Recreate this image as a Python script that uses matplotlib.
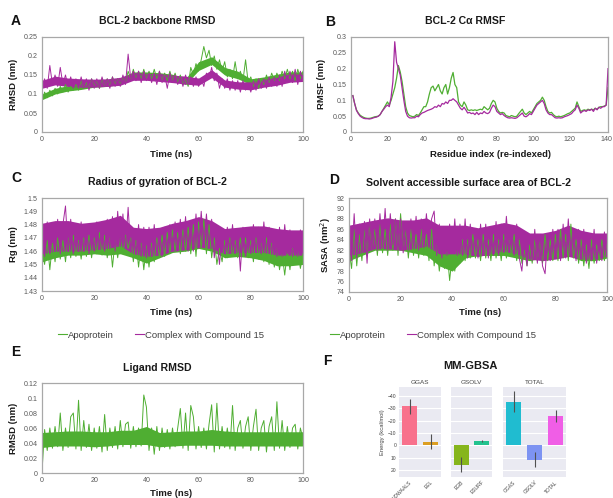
import matplotlib
matplotlib.use('Agg')
import matplotlib.pyplot as plt
from matplotlib.lines import Line2D
from matplotlib.ticker import FuncFormatter, MultipleLocator

plt.rcParams['font.family'] = ['Liberation Sans', 'DejaVu Sans']

# ---------------- data ----------------
time_ns = list(range(101))
core_t = list(range(0, 101, 5))  # times of the dense-noise core band

rmsd_apo = [0.08, 0.105, 0.09, 0.11, 0.095, 0.115, 0.1, 0.12, 0.105, 0.125,
            0.105, 0.12, 0.11, 0.125, 0.11, 0.135, 0.115, 0.13, 0.115, 0.14,
            0.12, 0.135, 0.115, 0.14, 0.12, 0.14, 0.12, 0.145, 0.125, 0.14,
            0.125, 0.145, 0.13, 0.16, 0.14, 0.165, 0.14, 0.16, 0.14, 0.165,
            0.14, 0.16, 0.14, 0.165, 0.14, 0.16, 0.135, 0.155, 0.135, 0.16,
            0.135, 0.155, 0.13, 0.15, 0.125, 0.14, 0.12, 0.17, 0.15, 0.18,
            0.16, 0.19, 0.225, 0.195, 0.215, 0.175, 0.2, 0.165, 0.19, 0.16,
            0.185, 0.145, 0.165, 0.14, 0.185, 0.14, 0.16, 0.135, 0.19, 0.13,
            0.145, 0.12, 0.14, 0.115, 0.14, 0.125, 0.15, 0.13, 0.155, 0.135,
            0.155, 0.135, 0.16, 0.14, 0.165, 0.14, 0.16, 0.135, 0.165, 0.14, 0.16]
rmsd_cpx = [0.12, 0.14, 0.115, 0.175, 0.125, 0.15, 0.12, 0.17, 0.125, 0.15,
            0.12, 0.145, 0.115, 0.14, 0.115, 0.145, 0.115, 0.14, 0.11, 0.14,
            0.115, 0.14, 0.115, 0.145, 0.12, 0.14, 0.115, 0.145, 0.12, 0.14,
            0.12, 0.15, 0.125, 0.205, 0.14, 0.16, 0.135, 0.16, 0.13, 0.16,
            0.135, 0.155, 0.13, 0.155, 0.125, 0.16, 0.13, 0.15, 0.115, 0.155,
            0.13, 0.15, 0.125, 0.145, 0.12, 0.15, 0.125, 0.145, 0.12, 0.145,
            0.12, 0.14, 0.12, 0.155, 0.14, 0.17, 0.135, 0.155, 0.115, 0.14,
            0.115, 0.14, 0.11, 0.135, 0.11, 0.135, 0.105, 0.135, 0.11, 0.13,
            0.105, 0.135, 0.11, 0.14, 0.115, 0.14, 0.115, 0.145, 0.12, 0.145,
            0.12, 0.15, 0.12, 0.16, 0.13, 0.16, 0.13, 0.165, 0.125, 0.16, 0.135]
rmsd_apo_core_lo = [0.085, 0.1, 0.108, 0.112, 0.118, 0.12, 0.125, 0.14, 0.142, 0.14, 0.136,
                    0.125, 0.162, 0.178, 0.15, 0.14, 0.125, 0.128, 0.138, 0.142, 0.142]
rmsd_apo_core_hi = [0.1, 0.115, 0.122, 0.128, 0.132, 0.137, 0.14, 0.158, 0.158, 0.156, 0.152,
                    0.14, 0.185, 0.198, 0.17, 0.16, 0.14, 0.145, 0.152, 0.158, 0.158]
rmsd_cpx_core_lo = [0.115, 0.124, 0.12, 0.118, 0.118, 0.12, 0.123, 0.136, 0.136, 0.133, 0.13,
                    0.126, 0.123, 0.143, 0.118, 0.113, 0.111, 0.118, 0.123, 0.131, 0.133]
rmsd_cpx_core_hi = [0.136, 0.147, 0.142, 0.14, 0.139, 0.14, 0.144, 0.157, 0.154, 0.154, 0.15,
                    0.147, 0.142, 0.164, 0.137, 0.132, 0.132, 0.139, 0.144, 0.154, 0.152]

residue = list(range(1, 142))
rmsf_apo = [0.115, 0.09, 0.07, 0.06, 0.053, 0.049, 0.046, 0.044, 0.043, 0.043,
            0.044, 0.046, 0.048, 0.049, 0.05, 0.055, 0.065, 0.075, 0.085, 0.095,
            0.085, 0.1, 0.12, 0.14, 0.17, 0.21, 0.19, 0.16, 0.12, 0.08,
            0.06, 0.052, 0.05, 0.048, 0.05, 0.055, 0.052, 0.06, 0.07, 0.08,
            0.08, 0.095, 0.12, 0.14, 0.145, 0.13, 0.14, 0.15, 0.13, 0.12,
            0.14, 0.15, 0.12, 0.14, 0.17, 0.188, 0.15, 0.14, 0.095, 0.085,
            0.08, 0.095, 0.085, 0.07, 0.068, 0.07, 0.068, 0.07, 0.068, 0.07,
            0.072, 0.07, 0.08, 0.075, 0.07, 0.075, 0.09, 0.1, 0.095, 0.075,
            0.065, 0.06, 0.062, 0.06, 0.052, 0.05, 0.048, 0.052, 0.05, 0.048,
            0.05, 0.058, 0.065, 0.072, 0.06, 0.055, 0.06, 0.065, 0.06, 0.07,
            0.08, 0.09, 0.095, 0.1, 0.11, 0.1, 0.08, 0.065, 0.06, 0.062,
            0.055, 0.05, 0.048, 0.05, 0.048, 0.05, 0.052, 0.055, 0.058, 0.06,
            0.065, 0.07, 0.075, 0.095, 0.08, 0.065, 0.068, 0.07, 0.068, 0.072,
            0.07, 0.072, 0.07, 0.075, 0.072, 0.078, 0.08, 0.08, 0.082, 0.085, 0.14]
rmsf_cpx = [0.115, 0.09, 0.068, 0.058, 0.05, 0.046, 0.043, 0.042, 0.042, 0.041,
            0.042, 0.044, 0.046, 0.047, 0.05, 0.055, 0.065, 0.072, 0.08, 0.085,
            0.08, 0.11, 0.16, 0.285, 0.22, 0.2, 0.18, 0.14, 0.1, 0.065,
            0.05, 0.045, 0.044, 0.045, 0.045, 0.05, 0.048, 0.055, 0.06, 0.062,
            0.065, 0.068, 0.07, 0.072, 0.075, 0.08, 0.078, 0.085, 0.08, 0.09,
            0.088, 0.095, 0.09, 0.1, 0.1, 0.105, 0.1, 0.095, 0.085, 0.075,
            0.07, 0.078, 0.07, 0.06, 0.062, 0.058, 0.06, 0.055, 0.062, 0.055,
            0.06, 0.058, 0.065, 0.06, 0.058, 0.062, 0.075, 0.085, 0.08, 0.065,
            0.06, 0.055, 0.058, 0.052, 0.048, 0.045, 0.044, 0.045, 0.044, 0.043,
            0.045, 0.05, 0.055, 0.06, 0.05, 0.048, 0.052, 0.058, 0.055, 0.065,
            0.075, 0.085, 0.09, 0.095, 0.1, 0.09, 0.07, 0.06, 0.055, 0.055,
            0.05, 0.045, 0.044, 0.045, 0.044, 0.045, 0.048, 0.05, 0.052, 0.055,
            0.058, 0.065, 0.07, 0.085, 0.075, 0.06, 0.065, 0.068, 0.065, 0.07,
            0.068, 0.072, 0.065, 0.075, 0.07, 0.078, 0.075, 0.08, 0.08, 0.085, 0.2]

rg_apo = [1.46, 1.45, 1.468, 1.446, 1.466, 1.452, 1.47, 1.454, 1.468, 1.452,
          1.47, 1.455, 1.472, 1.456, 1.468, 1.454, 1.47, 1.456, 1.472, 1.455,
          1.47, 1.458, 1.474, 1.457, 1.472, 1.455, 1.47, 1.448, 1.468, 1.455,
          1.47, 1.458, 1.472, 1.462, 1.47, 1.452, 1.468, 1.448, 1.466, 1.446,
          1.464, 1.448, 1.466, 1.452, 1.47, 1.455, 1.472, 1.456, 1.474, 1.458,
          1.476, 1.46, 1.474, 1.458, 1.476, 1.46, 1.478, 1.458, 1.48, 1.456,
          1.482, 1.462, 1.484, 1.458, 1.48, 1.455, 1.47, 1.45, 1.462, 1.452,
          1.468, 1.455, 1.47, 1.456, 1.468, 1.455, 1.47, 1.456, 1.47, 1.455,
          1.468, 1.452, 1.47, 1.454, 1.466, 1.452, 1.47, 1.45, 1.466, 1.448,
          1.462, 1.446, 1.458, 1.442, 1.46, 1.446, 1.462, 1.45, 1.46, 1.447, 1.458]
rg_cpx = [1.47, 1.456, 1.482, 1.458, 1.478, 1.46, 1.484, 1.458, 1.48, 1.494,
          1.46, 1.484, 1.458, 1.48, 1.46, 1.482, 1.46, 1.478, 1.458, 1.48,
          1.46, 1.482, 1.462, 1.48, 1.46, 1.484, 1.462, 1.486, 1.46, 1.49,
          1.464, 1.488, 1.462, 1.493, 1.46, 1.476, 1.458, 1.48, 1.456, 1.478,
          1.455, 1.478, 1.456, 1.48, 1.458, 1.476, 1.456, 1.478, 1.458, 1.48,
          1.46, 1.482, 1.46, 1.484, 1.462, 1.486, 1.46, 1.482, 1.46, 1.488,
          1.462, 1.49, 1.464, 1.488, 1.462, 1.484, 1.455, 1.47, 1.45, 1.474,
          1.458, 1.478, 1.46, 1.48, 1.458, 1.476, 1.445, 1.478, 1.456, 1.476,
          1.458, 1.48, 1.46, 1.478, 1.458, 1.482, 1.46, 1.478, 1.458, 1.476,
          1.456, 1.478, 1.456, 1.48, 1.458, 1.476, 1.456, 1.474, 1.456, 1.476, 1.46]
rg_apo_core_lo = [1.452, 1.455, 1.457, 1.457, 1.458, 1.457, 1.458, 1.455, 1.451, 1.455, 1.459,
                  1.46, 1.462, 1.46, 1.455, 1.456, 1.455, 1.453, 1.449, 1.449, 1.45]
rg_apo_core_hi = [1.466, 1.467, 1.468, 1.468, 1.47, 1.469, 1.47, 1.466, 1.463, 1.468, 1.472,
                  1.474, 1.477, 1.474, 1.466, 1.467, 1.467, 1.466, 1.461, 1.46, 1.46]
rg_cpx_core_lo = [1.458, 1.46, 1.46, 1.46, 1.461, 1.462, 1.464, 1.458, 1.456, 1.457, 1.46,
                  1.461, 1.463, 1.462, 1.458, 1.459, 1.459, 1.459, 1.457, 1.457, 1.457]
rg_cpx_core_hi = [1.481, 1.483, 1.483, 1.481, 1.482, 1.484, 1.487, 1.478, 1.477, 1.478, 1.481,
                  1.483, 1.486, 1.483, 1.477, 1.478, 1.479, 1.479, 1.477, 1.476, 1.476]

sasa_apo = [82, 78.5, 86, 79, 85, 80, 86, 81, 87, 82,
            86, 81, 87, 81.5, 86, 81, 87, 82, 88, 81,
            89, 82, 86, 80.5, 86, 81, 85, 80.5, 86, 81,
            85, 80, 86, 79, 83, 78, 82, 78.5, 82, 76.2,
            81, 78, 82, 79.5, 84, 80, 84, 80.5, 85, 80.5,
            84, 80, 85, 80.5, 84, 80, 85, 80.5, 84, 80,
            85, 80.5, 84, 81, 85, 80, 84, 79.5, 82, 79,
            83, 79.5, 84, 80, 84, 79.5, 85, 80, 84, 80,
            85, 80, 86, 80.5, 85, 80, 87, 80.5, 84, 79.5,
            84, 79, 83, 78.5, 84, 79.5, 83, 80, 84, 80, 83]
sasa_cpx = [84, 80, 89, 80.5, 87, 81.5, 87.5, 79.5, 88, 82,
            88, 82, 89, 82.5, 90, 82, 89, 83, 88, 82,
            88, 81.5, 87, 82, 88, 82.5, 88.5, 82, 88, 82.5,
            89, 83, 88, 89.5, 81, 87, 80.5, 86, 81, 87,
            81.5, 88, 81, 87, 81, 88, 80.5, 87, 81, 86,
            80.5, 87, 81, 87, 80.5, 86, 81, 87.5, 81, 87,
            81.5, 88.5, 82, 86.5, 81, 87, 80.5, 78, 84, 79,
            85, 80, 86, 79.5, 85, 79, 77.5, 85, 80, 86,
            80.5, 86, 80, 87, 80.5, 88, 81, 86, 80, 86,
            80.5, 86, 79.5, 85, 80, 86, 79.5, 85, 80, 85.5, 81]
sasa_apo_core_lo = [80, 81, 82, 82, 82, 81.5, 81, 79, 78, 80.5, 81,
                    81, 81, 80.5, 80, 80.5, 80.5, 81, 80, 80, 80.5]
sasa_apo_core_hi = [84, 85, 85.5, 86, 86, 85, 85, 82.5, 81.5, 84, 84,
                    84, 84.5, 84, 83, 84, 84, 85, 83.5, 83, 83]
sasa_cpx_core_lo = [81, 81.5, 82.3, 82.3, 82, 82.3, 82.8, 81.3, 81.3, 81.3, 80.8,
                    81.3, 81.8, 81.3, 80.3, 80, 80.3, 80.8, 80.3, 80.3, 80.8]
sasa_cpx_core_hi = [86.8, 87.3, 87.8, 88.2, 87.8, 87.8, 88.2, 86.8, 86.8, 86.8, 86.3,
                    86.8, 87.3, 86.8, 85.3, 85.3, 85.8, 86.8, 85.8, 85.3, 85.3]

lig_rmsd = [0.002, 0.058, 0.03, 0.06, 0.033, 0.062, 0.035, 0.08, 0.03, 0.06,
            0.034, 0.075, 0.08, 0.032, 0.097, 0.03, 0.07, 0.034, 0.065, 0.03,
            0.06, 0.033, 0.062, 0.028, 0.078, 0.03, 0.06, 0.034, 0.062, 0.032,
            0.07, 0.035, 0.065, 0.068, 0.033, 0.062, 0.035, 0.06, 0.036, 0.104,
            0.088, 0.03, 0.06, 0.025, 0.062, 0.03, 0.06, 0.034, 0.058, 0.032,
            0.06, 0.035, 0.06, 0.086, 0.033, 0.08, 0.03, 0.09, 0.075, 0.032,
            0.062, 0.034, 0.06, 0.032, 0.065, 0.091, 0.028, 0.093, 0.032, 0.062,
            0.034, 0.06, 0.032, 0.09, 0.03, 0.06, 0.07, 0.033, 0.062, 0.075,
            0.03, 0.062, 0.085, 0.03, 0.06, 0.07, 0.028, 0.062, 0.075, 0.03,
            0.095, 0.033, 0.07, 0.03, 0.062, 0.034, 0.06, 0.065, 0.032, 0.06, 0.045]
lig_core_lo = [0.034, 0.036, 0.036, 0.036, 0.035, 0.036, 0.038, 0.038, 0.038, 0.035, 0.036,
               0.037, 0.037, 0.037, 0.036, 0.036, 0.036, 0.036, 0.036, 0.036, 0.036]
lig_core_hi = [0.054, 0.055, 0.056, 0.056, 0.055, 0.055, 0.057, 0.057, 0.062, 0.054, 0.055,
               0.056, 0.056, 0.058, 0.056, 0.055, 0.055, 0.055, 0.055, 0.055, 0.055]

gb_groups = ['GGAS', 'GSOLV', 'TOTAL']
gb_terms = [['VDWAALS', 'EEL'], ['EGB', 'ESURF'], ['GGAS', 'GSOLV', 'TOTAL']]
gb_means = [[-31.5, -3.0], [15.5, -3.5], [-35.0, 11.5, -23.5]]
gb_sd = [[6.0, 6.0], [6.0, 1.0], [8.5, 6.0, 4.7]]
gb_colors = [['#f8718c', '#dc9e22'], ['#86b51c', '#22c28e'], ['#20bcd0', '#7d93f2', '#f05ee6']]

series_labels = ['Apoprotein', 'Complex with Compound 15']

# ---------------- layout ----------------
W, H = 613, 498
fig = plt.figure(figsize=(W / 100, H / 100), dpi=100)

GREEN = '#4fae32'
MAG = '#a52a9e'
FRAME = '#a8a8a8'
TICKC = '#595959'
TRACE_LW = 0.7


def box(x0, y0, x1, y1):
    return [x0 / W, 1 - y1 / H, (x1 - x0) / W, (y1 - y0) / H]


def ftext(x, y, s, **kw):
    return fig.text(x / W, 1 - y / H, s, **kw)


fmt = FuncFormatter(lambda v, p: ('%g' % round(v, 6)))


def excel_axes(rect, xlim, xstep, ylim, ystep, xlabel, ylabel, xl_px, yl_px):
    ax = fig.add_axes(box(*rect))
    ax.set_xlim(*xlim)
    ax.set_ylim(*ylim)
    ax.xaxis.set_major_locator(MultipleLocator(xstep))
    ax.yaxis.set_major_locator(MultipleLocator(ystep))
    ax.yaxis.set_major_formatter(fmt)
    ax.xaxis.set_major_formatter(fmt)
    for s in ax.spines.values():
        s.set_color(FRAME)
        s.set_linewidth(0.9)
    ax.tick_params(length=0, labelsize=5.1, labelcolor=TICKC, pad=3)
    ax.set_xlabel(xlabel, fontsize=6.8, fontweight='bold', color='#1a1a1a')
    ax.xaxis.set_label_coords(xl_px[0] / W, 1 - xl_px[1] / H, transform=fig.transFigure)
    ax.xaxis.label.set_va('center')
    ax.set_ylabel(ylabel, fontsize=6.8, fontweight='bold', color='#1a1a1a')
    ax.yaxis.set_label_coords(yl_px[0] / W, 1 - yl_px[1] / H, transform=fig.transFigure)
    ax.yaxis.label.set_va('center')
    return ax


def noisy(ax, t, y, ct, lo, hi, color):
    ax.fill_between(ct, lo, hi, color=color, lw=0)
    ax.plot(t, y, color=color, lw=TRACE_LW)


TITLE_KW = dict(fontsize=7.6, fontweight='bold', ha='center', va='center', color='#1a1a1a')
LETTER_KW = dict(fontsize=10, fontweight='bold', ha='left', va='center', color='#111111')

# A
axA = excel_axes((42, 37, 303, 132), (0, 100), 20, (0, 0.25), 0.05,
                 'Time (ns)', 'RMSD (nm)', (171, 154), (13, 84))
noisy(axA, time_ns, rmsd_apo, core_t, rmsd_apo_core_lo, rmsd_apo_core_hi, GREEN)
noisy(axA, time_ns, rmsd_cpx, core_t, rmsd_cpx_core_lo, rmsd_cpx_core_hi, MAG)
ftext(157, 21, 'BCL-2 backbone RMSD', **TITLE_KW)
ftext(11, 21, 'A', **LETTER_KW)

# B
axB = excel_axes((351, 37, 608, 132), (0, 141), 20, (0, 0.3), 0.05,
                 'Residue index (re-indexed)', 'RMSF (nm)', (490, 154), (321, 84))
axB.plot(residue, rmsf_apo, color=GREEN, lw=0.9)
axB.plot(residue, rmsf_cpx, color=MAG, lw=0.9)
ftext(465, 21, 'BCL-2 Cα RMSF', **TITLE_KW)
ftext(325, 22, 'B', **LETTER_KW)

# C
axC = excel_axes((42, 198, 303, 291), (0, 100), 20, (1.43, 1.50), 0.01,
                 'Time (ns)', 'Rg (nm)', (171, 312), (13, 244))
noisy(axC, time_ns, rg_apo, core_t, rg_apo_core_lo, rg_apo_core_hi, GREEN)
noisy(axC, time_ns, rg_cpx, core_t, rg_cpx_core_lo, rg_cpx_core_hi, MAG)
ftext(157, 182, 'Radius of gyration of BCL-2', **TITLE_KW)
ftext(11, 178, 'C', **LETTER_KW)

# D
axD = excel_axes((349, 198, 607, 292), (0, 100), 20, (74, 92), 2,
                 'Time (ns)', 'SASA (nm$^2$)', (480, 312), (326, 245))
noisy(axD, time_ns, sasa_apo, core_t, sasa_apo_core_lo, sasa_apo_core_hi, GREEN)
noisy(axD, time_ns, sasa_cpx, core_t, sasa_cpx_core_lo, sasa_cpx_core_hi, MAG)
ftext(468, 183, 'Solvent accessible surface area of BCL-2', **TITLE_KW)
ftext(329, 180, 'D', **LETTER_KW)

# legends
handles = [Line2D([], [], color=GREEN, lw=0.8), Line2D([], [], color=MAG, lw=0.8)]
for cx in (161, 433):
    fig.legend(handles, series_labels, ncol=2, loc='center',
               bbox_to_anchor=(cx / W, 1 - 335 / H), frameon=False,
               fontsize=6.8, handlelength=1.0, handletextpad=0.12,
               columnspacing=2.2, labelcolor='#404040')

# E
axE = excel_axes((42, 383, 303, 473), (0, 100), 20, (0, 0.12), 0.02,
                 'Time (ns)', 'RMSD (nm)', (171, 493), (13, 428))
noisy(axE, time_ns, lig_rmsd, core_t, lig_core_lo, lig_core_hi, GREEN)
ftext(157, 368, 'Ligand RMSD', **TITLE_KW)
ftext(11, 352, 'E', **LETTER_KW)

# F  (seaborn-like darkgrid)
ftext(470, 366, 'MM-GBSA', fontsize=8, fontweight='bold', ha='center', va='center', color='#1a1a1a')
ftext(323, 361, 'F', **LETTER_KW)
rects = [(399, 387, 441, 477), (451, 387, 492, 477), (503, 387, 566, 477)]
first = None
for gi, (grp, terms, means, sds, cols) in enumerate(zip(gb_groups, gb_terms, gb_means, gb_sd, gb_colors)):
    ax = fig.add_axes(box(*rects[gi]), sharey=first)
    if first is None:
        first = ax
    ax.set_facecolor('#EAEAF2')
    ax.set_axisbelow(True)
    ax.grid(axis='y', color='white', lw=0.8)
    for s in ax.spines.values():
        s.set_visible(False)
    xs = list(range(len(terms)))
    ax.bar(xs, means, width=0.75, color=cols)
    ax.vlines(xs, [m - s for m, s in zip(means, sds)], [m + s for m, s in zip(means, sds)],
              color='#505050', lw=0.8)
    ax.set_xlim(-0.5, len(terms) - 0.5)
    ax.set_xticks(xs)
    ax.set_xticklabels(terms, rotation=45, ha='right', rotation_mode='anchor')
    ax.tick_params(length=0, labelsize=3.6, labelcolor='#444444', pad=2)
    ax.set_title(grp, fontsize=4.6, color='#444444', pad=2.5)
    if gi == 0:
        ax.set_ylim(25.5, -47)
        ax.set_yticks([-40, -30, -20, -10, 0, 10, 20])
        ax.set_ylabel('Energy (kcal/mol)', fontsize=4.2, color='#444444', labelpad=2)
    else:
        ax.tick_params(axis='y', labelleft=False)

fig.savefig('out.png', dpi=100)
